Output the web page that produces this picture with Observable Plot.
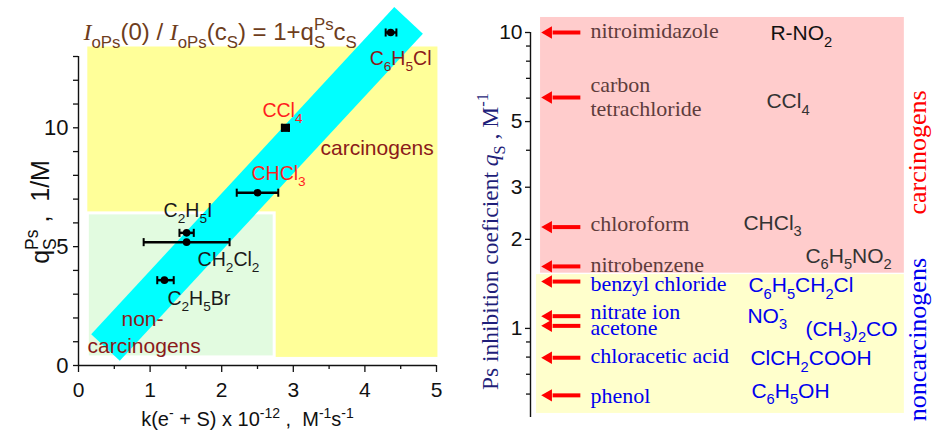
<!DOCTYPE html>
<html><head><meta charset="utf-8">
<script src="https://cdn.jsdelivr.net/npm/d3@7"></script>
<script src="https://cdn.jsdelivr.net/npm/@observablehq/plot@0.6"></script>
<style>
body{margin:0;background:#fff;}
#wrap{position:relative;width:932px;height:435px;overflow:hidden;background:#fff;}
#left,#right{position:absolute;top:0;}
#left{left:0;} #right{left:470px;}
svg{overflow:visible;}
</style></head><body>
<div id="wrap"><div id="left"></div><div id="right"></div></div>
<script>
// ---------- Left panel data ----------
const compounds   = ["C6H5Cl", "CCl4", "CHCl3", "C2H5I", "CH2Cl2", "C2H5Br"];
const leftLabels  = ["C_{6}H_{5}Cl", "CCl_{4}", "CHCl_{3}", "C_{2}H_{5}I", "CH_{2}Cl_{2}", "C_{2}H_{5}Br"];
const kValues     = [4.36, 2.89, 2.50, 1.51, 1.51, 1.20];   // k(e- + S) x 1e-12
const kLow        = [4.29, 2.84, 2.21, 1.41, 0.91, 1.10];
const kHigh       = [4.44, 2.94, 2.79, 1.61, 2.11, 1.33];
const qValues     = [14.01, 10.0, 7.27, 5.58, 5.19, 3.59];  // q_S^Ps, 1/M
const fitK        = [0.377, 4.61];                          // correlation band
const fitQ        = [0.76, 14.52];
const zoneNames   = ["carcinogens", "non-carcinogens"];
const zoneK       = [[0.13, 5.02], [0.13, 2.74]];
const zoneQ       = [[0.34, 13.4], [0.34, 6.4]];
const leftXTicks  = [0, 1, 2, 3, 4, 5];
const leftXMinor  = [0.5, 1.5, 2.5, 3.5, 4.5];
const leftYTicks  = [0, 1, 2, 3, 4, 5, 6, 7, 8, 9, 10, 11, 12, 13];
const leftYLabeled = [0, 5, 10];
const leftTitle   = "~{I}_{oPs}(0) / ~{I}_{oPs}(c_{S}) = 1+q_{S}^{Ps}c_{S}";
const leftXLabel  = "k(e^{-} + S) x 10^{-12} ,  M^{-1}s^{-1}";
const leftYLabel  = "q_{S}^{Ps} ,  1/M";

// ---------- Right panel data ----------
const substances  = ["nitroimidazole", "carbon\ntetrachloride", "chloroform", "nitrobenzene", "benzyl chloride", "nitrate ion", "acetone", "chloracetic acid", "phenol"];
const formulas    = ["R-NO_{2}", "CCl_{4}", "CHCl_{3}", "C_{6}H_{5}NO_{2}", "C_{6}H_{5}CH_{2}Cl", "NO_{3}^{-}", "(CH_{3})_{2}CO", "ClCH_{2}COOH", "C_{6}H_{5}OH"];
const inhibition  = [10.0, 6.03, 2.20, 1.62, 1.44, 1.10, 1.02, 0.796, 0.594]; // q_S, 1/M
const carcinogenic = [true, true, true, true, false, false, false, false, false];
const groups      = ["carcinogens", "noncarcinogens"];
const groupQ      = [[1.537, 11.24], [0.516, 1.52]];
const rightTicks  = [1, 2, 3, 5, 10];
const rightMinor  = [0.6, 0.7, 0.8, 0.9, 4, 6, 7, 8, 9];
const rightYLabel = "Ps inhibition coeficient ~{q}_{S} , M^{-1}";

const SANS = "'Liberation Sans', Arial, Helvetica, sans-serif";
const SERIF = "'Liberation Serif', 'Times New Roman', Times, serif";

// ---------- Left panel ----------
const leftData = compounds.map((c, i) => ({name: c, label: leftLabels[i], k: kValues[i], lo: kLow[i], hi: kHigh[i], q: qValues[i]}));
const zones = zoneNames.map((z, i) => ({name: z, x1: zoneK[i][0], x2: zoneK[i][1], y1: zoneQ[i][0], y2: zoneQ[i][1]}));
const band = fitK.map((k, i) => ({k, q: fitQ[i]}));
const capH = 0.17;
const labelStyle = [
  {dx: -21, dy: 26, fill: "#8b1a1a"},
  {dx: -23, dy: -17, fill: "#ff1f1f"},
  {dx: -6, dy: -19, fill: "#ff1f1f"},
  {dx: -23, dy: -22, fill: "#1a1a1a"},
  {dx: 11, dy: 18, fill: "#1a1a1a"},
  {dx: 3, dy: 19, fill: "#1a1a1a"}
];

const left = Plot.plot({
  width: 470, height: 435,
  marginLeft: 78, marginRight: 34, marginTop: 56, marginBottom: 70,
  x: {domain: [0, 5]},
  y: {domain: [0, 13]},
  style: {fontFamily: SANS, fontSize: "21px", background: "transparent", overflow: "visible", color: "#111"},
  marks: [
    Plot.rect([zones[0]], {x1: "x1", x2: "x2", y1: "y1", y2: "y2", fill: "#ffff99"}),
    Plot.rect([zones[1]], {x1: "x1", x2: "x2", y1: "y1", y2: "y2", fill: "#e2fbe0", stroke: "#ffffff", strokeWidth: 3}),
    Plot.line(band, {x: "k", y: "q", stroke: "#00ffff", strokeWidth: 39, strokeLinecap: "butt"}),
    Plot.link(leftData, {x1: "lo", x2: "hi", y1: "q", y2: "q", stroke: "black", strokeWidth: 2.5}),
    Plot.link(leftData, {x1: "lo", x2: "lo", y1: d => d.q - capH, y2: d => d.q + capH, stroke: "black", strokeWidth: 2}),
    Plot.link(leftData, {x1: "hi", x2: "hi", y1: d => d.q - capH, y2: d => d.q + capH, stroke: "black", strokeWidth: 2}),
    Plot.dot(leftData.filter(d => d.name !== "CCl4"), {x: "k", y: "q", r: 3.8, fill: "black"}),
    Plot.dot(leftData.filter(d => d.name === "CCl4"), {x: "k", y: "q", r: 4.6, symbol: "square", fill: "black"}),
    ...leftData.map((d, i) => Plot.text([d], {x: "k", y: "q", text: "label", textAnchor: "start", fontSize: 19.5, dx: labelStyle[i].dx, dy: labelStyle[i].dy, fill: labelStyle[i].fill})),
    Plot.text(["carcinogens"], {x: 3.38, y: 9.16, textAnchor: "start", fontSize: 21, fill: "#8b1a1a"}),
    Plot.text(["non-"], {x: 0.60, y: 1.94, textAnchor: "start", fontSize: 21, fill: "#8b1a1a"}),
    Plot.text(["carcinogens"], {x: 0.126, y: 0.80, textAnchor: "start", fontSize: 21, fill: "#8b1a1a"}),
    Plot.ruleY([0], {stroke: "#111", strokeWidth: 1.4}),
    Plot.ruleX([0], {stroke: "#111", strokeWidth: 1.4}),
    Plot.axisX({ticks: leftXTicks, tickSize: 7, tickPadding: 10, label: null, fontSize: 21, strokeWidth: 1.3, tickFormat: d => String(d)}),
    Plot.axisX({ticks: leftXMinor, tickSize: 4, tickFormat: () => "", label: null, strokeWidth: 1.3}),
    Plot.axisY({ticks: leftYTicks, tickSize: 5, tickPadding: 5, label: null, fontSize: 22, strokeWidth: 1.3,
      tickFormat: d => leftYLabeled.includes(d) ? String(d) : ""}),
    Plot.text([leftTitle], {x: 0.07, y: 14.0, textAnchor: "start", fontSize: 24, fill: "#6e3d1c"}),
    Plot.text([leftXLabel], {x: 2.36, y: -2.28, textAnchor: "middle", fontSize: 20, fill: "#111"}),
    Plot.text([leftYLabel], {x: -0.53, y: 6.46, textAnchor: "middle", rotate: -90, fontSize: 25, fill: "#111"})
  ]
});

// ---------- Right panel ----------
const rightData = substances.map((s, i) => ({name: s, formula: formulas[i], q: inhibition[i], carc: carcinogenic[i]}));
const groupData = groups.map((g, i) => ({name: g, y1: groupQ[i][0], y2: groupQ[i][1]}));
const arrowTip = 2.7, shaftStart = 5.5, arrowTail = 12.4, nameX = 14.9, formulaX = 54.2;
const nameDy = [-2, -1, -4, -2, 2, -5, 1, -2, 0];
const formulaOff = [[22, 1], [18, 4], [-5, -4], [57, -10], [0, 4], [-1, 0], [57, 3], [2, 1], [3, -4]];
const formulaFill = ["#111111", "#333333", "#333333", "#333333", "#0000ee", "#0000ee", "#0000ee", "#0000ee", "#0000ee"];

const right = Plot.plot({
  width: 462, height: 435,
  marginLeft: 60, marginRight: 0, marginTop: 32, marginBottom: 18,
  x: {domain: [0, 100], axis: null},
  y: {type: "log", domain: [0.5, 10]},
  style: {fontFamily: SANS, fontSize: "21px", background: "transparent", overflow: "visible", color: "#111"},
  marks: [
    Plot.rect([groupData[0]], {x1: 2.5, x2: 93, y1: "y1", y2: "y2", fill: "#ffcccc"}),
    Plot.rect([groupData[1]], {x1: 1.5, x2: 93, y1: "y1", y2: "y2", fill: "#ffffcc"}),
    Plot.ruleX([0], {stroke: "#111", strokeWidth: 1.4}),
    Plot.axisY({ticks: rightTicks, tickSize: 5, tickPadding: 3, label: null, fontSize: 21, strokeWidth: 1.3, tickFormat: d => String(d)}),
    Plot.axisY({ticks: rightMinor, tickSize: 4, label: null, strokeWidth: 1.3, tickFormat: () => ""}),
    Plot.link(rightData, {x1: shaftStart, x2: arrowTail, y1: "q", y2: "q", stroke: "#ff0000", strokeWidth: 4}),
    Plot.dot(rightData, {x: arrowTip, y: "q", symbol: "triangle", rotate: -90, r: 4.6, fill: "#ff0000", dx: 7}),
    ...rightData.map((d, i) => Plot.text([d], {x: nameX, y: "q", text: "name", textAnchor: "start", fontFamily: SERIF, fontSize: 22, lineHeight: 1.1, dy: nameDy[i], fill: d.carc ? "#5e3c3c" : "#0000ee"})),
    ...rightData.map((d, i) => Plot.text([d], {x: formulaX, y: "q", text: "formula", textAnchor: "start", fontSize: 21, dx: formulaOff[i][0], dy: formulaOff[i][1], fill: formulaFill[i]})),
    Plot.text([groupData[0]], {x: 96.3, y: 3.93, text: "name", rotate: -90, textAnchor: "middle", fontFamily: SERIF, fontSize: 26, fill: "#ff0000"}),
    Plot.text([groupData[1]], {x: 96.3, y: 0.917, text: "name", rotate: -90, textAnchor: "middle", fontFamily: SERIF, fontSize: 26, fill: "#0000ee"}),
    Plot.text([rightYLabel], {x: -9.95, y: 1.966, rotate: -90, textAnchor: "middle", fontFamily: SERIF, fontSize: 23.5, fill: "#1f1f7a"})
  ]
});

document.getElementById("left").appendChild(left);
document.getElementById("right").appendChild(right);

// ---------- rich text: sub/superscripts and italics ----------
const NS = "http://www.w3.org/2000/svg";
function parseRich(s) {
  const segs = []; let buf = ""; let i = 0;
  while (i < s.length) {
    const c = s[i];
    if ((c === "_" || c === "^" || c === "~") && s[i + 1] === "{") {
      if (buf) { segs.push({type: "norm", text: buf}); buf = ""; }
      const j = s.indexOf("}", i + 2);
      segs.push({type: c === "_" ? "sub" : c === "^" ? "sup" : "ital", text: s.slice(i + 2, j)});
      i = j + 1;
    } else { buf += c; i++; }
  }
  if (buf) segs.push({type: "norm", text: buf});
  return segs;
}
function richify(svg) {
  svg.querySelectorAll("text").forEach(t => {
    const targets = t.querySelector("tspan") ? Array.from(t.querySelectorAll("tspan")) : [t];
    targets.forEach(el => {
      const s = el.textContent;
      if (!/[_^~]\{/.test(s)) return;
      t.setAttributeNS("http://www.w3.org/XML/1998/namespace", "xml:space", "preserve");
      t.style.whiteSpace = "pre";
      const fs = parseFloat(getComputedStyle(el).fontSize) || 16;
      const segs = parseRich(s);
      el.textContent = "";
      let off = 0, prev = null, prevType = null;
      const stacks = [];
      segs.forEach(seg => {
        const sp = document.createElementNS(NS, "tspan");
        const target = seg.type === "sub" ? 0.3 * fs : seg.type === "sup" ? -0.42 * fs : 0;
        const dy = target - off; off = target;
        if (dy) sp.setAttribute("dy", dy.toFixed(2));
        if (seg.type === "sub" || seg.type === "sup") sp.setAttribute("font-size", (0.7 * fs).toFixed(2));
        if (seg.type === "ital") { sp.setAttribute("font-style", "italic"); sp.setAttribute("font-family", SERIF); }
        sp.textContent = seg.text;
        el.appendChild(sp);
        if (seg.type === "sup" && prevType === "sub") stacks.push([sp, prev]);
        prev = sp; prevType = seg.type;
      });
      stacks.forEach(([sp, sub]) => sp.setAttribute("dx", (-sub.getComputedTextLength()).toFixed(2)));
    });
  });
}
richify(left);
richify(right);
</script></body></html>
